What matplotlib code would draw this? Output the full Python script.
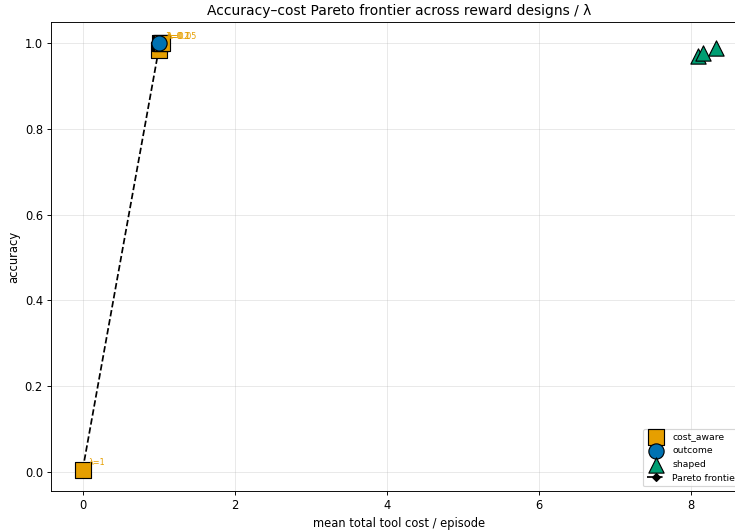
import matplotlib.pyplot as plt

# reward design results (mean total tool cost per episode, accuracy)
cost_aware_cost = [0.0, 1.0, 1.02, 1.03, 1.04]
cost_aware_acc = [0.005, 0.985, 1.0, 1.0, 1.0]
cost_aware_lam = ["1", "0.5", "0.2", "0.1", "0.05"]

outcome_cost = [1.01]
outcome_acc = [1.0]

shaped_cost = [8.09, 8.16, 8.33]
shaped_acc = [0.971, 0.978, 0.989]

pareto_cost = [0.0, 1.0]
pareto_acc = [0.005, 0.985]

DPI = 83
fig = plt.figure(figsize=(735 / DPI, 531 / DPI), dpi=DPI)
ax = fig.add_axes([0.0694, 0.0753, 0.9476, 0.8833])

ax.plot(pareto_cost, pareto_acc, "--", color="black", marker="D", markersize=5,
        linewidth=1.5, label="Pareto frontier", zorder=2)

ax.scatter(cost_aware_cost, cost_aware_acc, marker="s", s=175, color="#E69F00",
           edgecolor="black", linewidth=1.0, label="cost_aware", zorder=3)
ax.scatter(outcome_cost, outcome_acc, marker="o", s=175, color="#0072B2",
           edgecolor="black", linewidth=1.0, label="outcome", zorder=4)
ax.scatter(shaped_cost, shaped_acc, marker="^", s=175, color="#009E73",
           edgecolor="black", linewidth=1.0, label="shaped", zorder=3)

for c, a, lam in zip(cost_aware_cost, cost_aware_acc, cost_aware_lam):
    if a > 0.99 or lam == "1":
        ax.annotate(f"λ={lam}", (c, a), xytext=(5, 4), textcoords="offset points",
                    fontsize=7, color="#E69F00")

ax.set_xlabel("mean total tool cost / episode")
ax.set_ylabel("accuracy")
ax.set_title("Accuracy–cost Pareto frontier across reward designs / λ")
ax.grid(True, alpha=0.3)

handles, labels = ax.get_legend_handles_labels()
order = [labels.index(n) for n in ["cost_aware", "outcome", "shaped", "Pareto frontier"]]
ax.legend([handles[i] for i in order], [labels[i] for i in order],
          loc="lower right", fontsize=8)

plt.savefig("out.png", dpi=DPI)
